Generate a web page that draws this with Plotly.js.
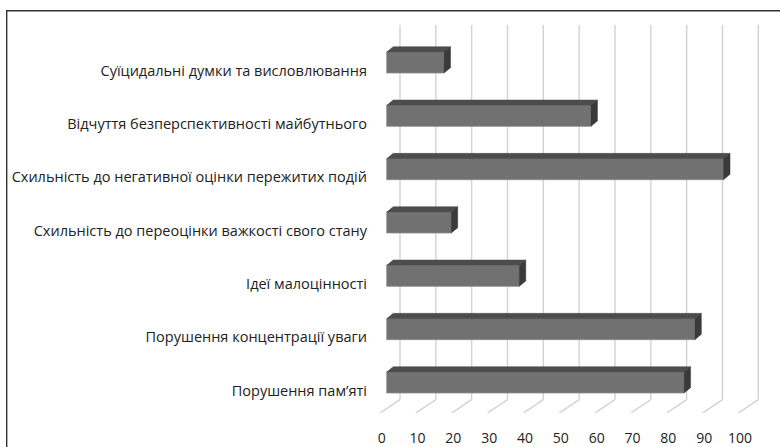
<!DOCTYPE html>
<html>
<head>
<meta charset="utf-8">
<script src="https://cdn.plot.ly/plotly-3.0.1.min.js"></script>
<style>
  html, body { margin: 0; padding: 0; background: #ffffff; }
  #chart { width: 780px; height: 447px; }
</style>
</head>
<body>
<div id="chart"></div>
<script>
// Categories, listed from the top row down
const categories = [
  'Суїцидальні думки та висловлювання',
  'Відчуття безперспективності майбутнього',
  'Схильність до негативної оцінки пережитих подій',
  'Схильність до переоцінки важкості свого стану',
  'Ідеї малоцінності',
  'Порушення концентрації уваги',
  'Порушення пам’яті'
];
// Share of respondents, %
const values = [16, 57, 94, 18, 37, 86, 83];
// Value axis ticks
const tickValues = [0, 10, 20, 30, 40, 50, 60, 70, 80, 90, 100];

// ---- page geometry (pixels) ----
const W = 780, H = 447;
const plotL = 380, plotR = 760, plotT = 25, plotB = 413;
const pxPerUnit = 3.583;      // horizontal pixels per percentage point
const rowPx = 53.33;          // vertical pixels between rows
const firstRowPx = 62.5;      // centre of the first bar, from the top
const barPx = 21;             // bar thickness
const depthX = 6.5, depthY = 5.3;   // bar depth (oblique projection)
const barFront = 6.7;         // bar front plane, px right of the floor's front edge
const wallX = 20, wallY = 13.3;     // back wall offset from the floor's front edge
const labelDrop = 8;          // category labels sit slightly below bar centres

const plotW = plotR - plotL, plotH = plotB - plotT;
const xRange = [-barFront / pxPerUnit, (plotW - barFront) / pxPerUnit];
const yRange = [(plotB - firstRowPx) / rowPx, (plotT - firstRowPx) / rowPx];
const yLabelRange = [(plotB - firstRowPx - labelDrop) / rowPx, (plotT - firstRowPx - labelDrop) / rowPx];
const xTickRange = [-1.7 / pxPerUnit, (plotW - 1.7) / pxPerUnit];

const rows = categories.map((_, i) => i);
const half = barPx / rowPx / 2;
const dxu = depthX / pxPerUnit;
const dyu = depthY / rowPx;

const frontColor = '#717171';
const topColor = '#4c4c4c';
const sideColor = '#3a3a3a';

const traces = [];

// front faces of the bars
traces.push({
  type: 'bar',
  orientation: 'h',
  x: values,
  y: rows,
  width: barPx / rowPx,
  marker: { color: frontColor, line: { color: '#8a8a8a', width: 0.8 } },
  hoverinfo: 'x+text',
  text: categories,
  textposition: 'none',
  xaxis: 'x',
  yaxis: 'y',
  showlegend: false
});

// top and right faces, projected from each value
values.forEach((v, i) => {
  const yTop = i - half, yBot = i + half;
  traces.push({
    type: 'scatter', mode: 'lines', fill: 'toself',
    x: [0, v, v + dxu, dxu, 0],
    y: [yTop, yTop, yTop - dyu, yTop - dyu, yTop],
    fillcolor: topColor, line: { color: topColor, width: 0.5 },
    hoverinfo: 'skip', showlegend: false, xaxis: 'x', yaxis: 'y'
  });
  traces.push({
    type: 'scatter', mode: 'lines', fill: 'toself',
    x: [v, v + dxu, v + dxu, v, v],
    y: [yTop, yTop - dyu, yBot - dyu, yBot, yTop],
    fillcolor: sideColor, line: { color: sideColor, width: 0.5 },
    hoverinfo: 'skip', showlegend: false, xaxis: 'x', yaxis: 'y'
  });
});

// back wall gridlines and floor lines
const wallShift = (wallX - barFront) / pxPerUnit;
const floorShift = -barFront / pxPerUnit;
const wallBottom = (plotB - wallY - firstRowPx) / rowPx;
const gridStyle = { color: '#d2d2d2', width: 1.4 };
const shapes = [];
tickValues.forEach(t => {
  shapes.push({
    type: 'line', layer: 'below', xref: 'x', yref: 'y',
    x0: t + wallShift, x1: t + wallShift, y0: wallBottom, y1: yRange[1],
    line: gridStyle
  });
  shapes.push({
    type: 'line', layer: 'below', xref: 'x', yref: 'y',
    x0: t + floorShift, x1: t + wallShift, y0: yRange[0], y1: wallBottom,
    line: gridStyle
  });
});

// chart frame
shapes.push({
  type: 'rect', xref: 'paper', yref: 'paper', layer: 'above',
  x0: (6.7 - plotL) / plotW, x1: (W + 20 - plotL) / plotW,
  y0: (plotB - (H + 20)) / plotH, y1: (plotB - 10.7) / plotH,
  line: { color: '#333333', width: 1.4 }, fillcolor: 'rgba(0,0,0,0)'
});

const font = { family: '"Open Sans", "Noto Sans", sans-serif', color: '#222222' };

const layout = {
  width: W, height: H,
  margin: { l: plotL, r: W - plotR, t: plotT, b: H - plotB, pad: 0 },
  paper_bgcolor: '#ffffff',
  plot_bgcolor: 'rgba(0,0,0,0)',
  showlegend: false,
  font: font,
  xaxis: {
    range: xRange, showgrid: false, zeroline: false,
    showticklabels: false, showline: false, fixedrange: true
  },
  xaxis2: {
    overlaying: 'x', anchor: 'y', side: 'bottom',
    range: xTickRange, tickmode: 'array', tickvals: tickValues,
    ticktext: tickValues.map(String),
    showgrid: false, zeroline: false, showline: false, ticks: '',
    ticklabelstandoff: 15,
    tickfont: { family: font.family, size: 14, color: '#222222' }
  },
  yaxis: {
    range: yRange, showgrid: false, zeroline: false,
    showticklabels: false, showline: false, fixedrange: true
  },
  yaxis2: {
    overlaying: 'y', anchor: 'x', side: 'left',
    range: yLabelRange, tickmode: 'array', tickvals: rows, ticktext: categories,
    showgrid: false, zeroline: false, showline: false, ticks: '',
    ticklabelstandoff: 12,
    tickfont: { family: font.family, size: 14.5, color: '#222222' }
  },
  shapes: shapes
};

// an invisible trace keeps the label axes drawn
traces.push({
  type: 'scatter', mode: 'markers', x: [0], y: [0],
  xaxis: 'x2', yaxis: 'y2', marker: { opacity: 0 },
  hoverinfo: 'skip', showlegend: false
});

Plotly.newPlot('chart', traces, layout, { displayModeBar: false, staticPlot: true });
</script>
</body>
</html>
